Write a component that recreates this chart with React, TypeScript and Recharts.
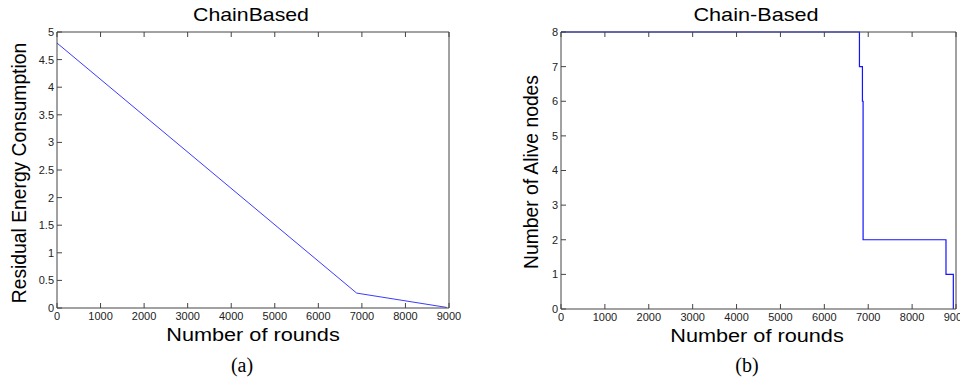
import React from 'react';
import { LineChart, Line, XAxis, YAxis } from 'recharts';

const roundTicks = [0, 1000, 2000, 3000, 4000, 5000, 6000, 7000, 8000, 9000];
const energyTicks = [0, 0.5, 1, 1.5, 2, 2.5, 3, 3.5, 4, 4.5, 5];
const aliveTicks = [0, 1, 2, 3, 4, 5, 6, 7, 8];

const energyRounds = [0, 6880, 8950];
const energyValues = [4.8, 0.27, 0.01];

const aliveRounds = [0, 6800, 6868, 6883, 8772, 8939];
const aliveValues = [8, 7, 6, 2, 1, 0];

const energyData = energyRounds.map((r, i) => ({ round: r, value: energyValues[i] }));
const aliveData = aliveRounds.map((r, i) => ({ round: r, value: aliveValues[i] }));

const FONT = '"Liberation Sans", Arial, Helvetica, sans-serif';
const tickStyle = { fontSize: 11, fill: '#222', fontFamily: FONT };
const axisColor = '#444';

type TxtProps = {
  x: number;
  y: number;
  size: number;
  rotate?: number;
  sx?: number;
  serif?: boolean;
  children: React.ReactNode;
};

function Txt({ x, y, size, rotate = 0, sx = 1, serif, children }: TxtProps) {
  return <div style={{
    position: 'absolute',
    left: x,
    top: y,
    transform: `translate(-50%, -50%) rotate(${rotate}deg) scaleX(${sx})`,
    fontSize: size,
    fontFamily: serif ? '"Liberation Serif", "Times New Roman", serif' : FONT,
    lineHeight: 1,
    whiteSpace: 'nowrap',
    color: '#000',
    pointerEvents: 'none'
  }}>
      {children}
    </div>;
}

export default function App() {
  return <div style={{ marginLeft: -8, marginTop: -8, width: 968, height: 385, display: 'flex' }}>
      <LineChart width={484} height={385} data={energyData} margin={{ top: 31, right: 34, bottom: 0, left: 0 }}>
        <XAxis xAxisId="b" dataKey="round" type="number" domain={[0, 9000]} ticks={roundTicks} height={77}
          tickSize={-5} tickMargin={9} tick={tickStyle} stroke={axisColor} interval={0} />
        <XAxis xAxisId="t" orientation="top" dataKey="round" type="number" domain={[0, 9000]} ticks={roundTicks}
          height={1} tickSize={-5} tick={() => <g />} stroke={axisColor} interval={0} />
        <YAxis yAxisId="l" type="number" domain={[0, 5]} ticks={energyTicks} width={57}
          tickSize={-5} tickMargin={8} tick={tickStyle} stroke={axisColor} interval={0} />
        <YAxis yAxisId="r" orientation="right" type="number" domain={[0, 5]} ticks={energyTicks}
          width={1} tickSize={-5} tick={() => <g />} stroke={axisColor} interval={0} />
        <Line xAxisId="b" yAxisId="l" dataKey="value" stroke="#3b3bff" strokeWidth={1} dot={false}
          isAnimationActive={false} />
      </LineChart>
      <LineChart width={484} height={385} data={aliveData} margin={{ top: 31, right: 11, bottom: 0, left: 0 }}>
        <XAxis xAxisId="b" dataKey="round" type="number" domain={[0, 9000]} ticks={roundTicks} height={76}
          tickSize={-5} tickMargin={9} tick={tickStyle} stroke={axisColor} interval={0} />
        <XAxis xAxisId="t" orientation="top" dataKey="round" type="number" domain={[0, 9000]} ticks={roundTicks}
          height={1} tickSize={-5} tick={() => <g />} stroke={axisColor} interval={0} />
        <YAxis yAxisId="l" type="number" domain={[0, 8]} ticks={aliveTicks} width={77}
          tickSize={-5} tickMargin={8} tick={tickStyle} stroke={axisColor} interval={0} />
        <YAxis yAxisId="r" orientation="right" type="number" domain={[0, 8]} ticks={aliveTicks}
          width={1} tickSize={-5} tick={() => <g />} stroke={axisColor} interval={0} />
        <Line xAxisId="b" yAxisId="l" type="stepAfter" dataKey="value" stroke="#1414ff" strokeWidth={1.2}
          dot={false} isAnimationActive={false} />
      </LineChart>

      <Txt x={251} y={15} size={18.5} sx={1.15}>ChainBased</Txt>
      <Txt x={756} y={15} size={18.5} sx={1.17}>Chain-Based</Txt>
      <Txt x={253} y={335} size={18.7} sx={1.16}>Number of rounds</Txt>
      <Txt x={757} y={336} size={18.7} sx={1.16}>Number of rounds</Txt>
      <Txt x={20} y={173} size={19.3} rotate={-90}>Residual Energy Consumption</Txt>
      <Txt x={532} y={172} size={19.3} rotate={-90}>Number of Alive nodes</Txt>
      <Txt x={242} y={365} size={20} serif>(a)</Txt>
      <Txt x={747} y={365} size={20} serif>(b)</Txt>
    </div>;
}
